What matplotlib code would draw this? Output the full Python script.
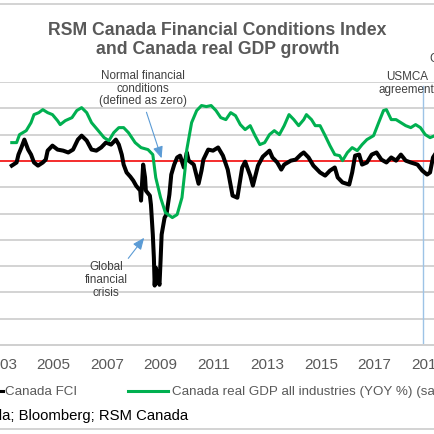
import matplotlib
matplotlib.use("Agg")
import matplotlib.pyplot as plt
from matplotlib.lines import Line2D
from matplotlib.transforms import Bbox

plt.rcParams["font.family"] = ["Liberation Sans", "DejaVu Sans"]
plt.rcParams["savefig.bbox"] = "standard"

# ── Data ───────────────────────────────────────────────────────────────────
fci_years = [
    2003.44, 2003.62, 2003.69, 2003.80, 2003.91, 2004.05, 2004.16, 2004.27, 2004.42, 2004.60,
    2004.71, 2004.78, 2004.96, 2005.15, 2005.36, 2005.55, 2005.73, 2005.91, 2006.05, 2006.24,
    2006.42, 2006.60, 2006.78, 2006.96, 2007.15, 2007.33, 2007.44, 2007.55, 2007.62, 2007.73,
    2007.87, 2007.98, 2008.09, 2008.24, 2008.27, 2008.35, 2008.42, 2008.45, 2008.60, 2008.64,
    2008.71, 2008.75, 2008.78, 2008.82, 2008.89, 2008.96, 2009.00, 2009.04, 2009.15, 2009.22,
    2009.33, 2009.40, 2009.51, 2009.62, 2009.73, 2009.87, 2009.98, 2010.05, 2010.24, 2010.42,
    2010.53, 2010.60, 2010.78, 2010.96, 2011.15, 2011.33, 2011.51, 2011.69, 2011.87, 2012.05,
    2012.16, 2012.35, 2012.45, 2012.64, 2012.82, 2013.07, 2013.18, 2013.36, 2013.51, 2013.62,
    2013.87, 2014.05, 2014.24, 2014.35, 2014.53, 2014.71, 2014.96, 2015.15, 2015.33, 2015.51,
    2015.62, 2015.80, 2016.05, 2016.16, 2016.27, 2016.42, 2016.53, 2016.71, 2016.89, 2017.07,
    2017.25, 2017.44, 2017.62, 2017.80, 2017.98, 2018.16, 2018.35, 2018.60, 2018.78, 2018.96,
    2019.07, 2019.18, 2019.25,
]
fci_values = [
    -0.18, -0.06, 0.24, 0.51, 0.81, 0.43, 0.24, -0.06, -0.18, -0.06,
    0.05, 0.39, 0.58, 0.43, 0.39, 0.32, 0.43, 0.81, 0.96, 0.77,
    0.43, 0.39, 0.51, 0.70, 0.62, 0.81, 0.62, 0.24, -0.14, -0.44,
    -0.60, -0.75, -0.95, -1.13, -1.51, -0.14, -0.63, -1.13, -1.32, -1.66,
    -2.80, -3.68, -4.74, -4.06, -4.44, -4.71, -3.79, -2.80, -2.16, -2.04,
    -1.28, -0.52, -0.14, 0.13, 0.20, -0.25, 0.32, 0.01, -0.14, -0.87,
    -0.37, 0.05, 0.43, 0.39, 0.51, 0.20, -0.33, -1.32, -1.40, -0.25,
    -0.03, -0.56, -0.94, -0.18, 0.16, 0.39, 0.13, -0.06, -0.33, -0.14,
    0.01, 0.05, 0.24, 0.32, 0.13, -0.18, -0.44, -0.56, -0.37, -0.25,
    -0.63, -0.82, -0.90, -0.44, 0.20, 0.24, -0.14, -0.06, 0.24, 0.32,
    0.05, -0.06, 0.13, 0.01, 0.24, 0.01, -0.06, -0.14, -0.37, -0.52,
    -0.44, 0.13, 0.24,
]

gdp_years = [
    2003.44, 2003.62, 2003.73, 2003.98, 2004.16, 2004.27, 2004.45, 2004.60, 2004.78, 2004.96,
    2005.15, 2005.25, 2005.44, 2005.69, 2005.87, 2006.05, 2006.24, 2006.42, 2006.64, 2006.89,
    2007.07, 2007.25, 2007.44, 2007.62, 2007.80, 2008.05, 2008.27, 2008.53, 2008.71, 2008.82,
    2009.00, 2009.18, 2009.44, 2009.62, 2009.80, 2009.91, 2009.98, 2010.16, 2010.35, 2010.53,
    2010.71, 2010.89, 2011.07, 2011.25, 2011.44, 2011.62, 2011.80, 2011.98, 2012.16, 2012.35,
    2012.53, 2012.71, 2012.89, 2013.07, 2013.25, 2013.44, 2013.62, 2013.80, 2013.98, 2014.16,
    2014.35, 2014.45, 2014.64, 2014.78, 2014.96, 2015.15, 2015.33, 2015.51, 2015.69, 2015.80,
    2015.98, 2016.16, 2016.35, 2016.53, 2016.71, 2016.96, 2017.15, 2017.33, 2017.44, 2017.62,
    2017.80, 2017.98, 2018.16, 2018.35, 2018.53, 2018.71, 2018.89, 2019.07, 2019.25,
]
gdp_values = [
    1.39, 1.39, 2.00, 2.30, 2.91, 3.52, 3.67, 3.90, 3.67, 3.52,
    3.06, 2.76, 3.06, 3.29, 3.83, 4.05, 3.67, 2.91, 2.38, 1.77,
    1.54, 2.15, 2.53, 2.53, 2.15, 1.39, 1.01, 0.86, 0.48, -1.27,
    -2.79, -3.93, -4.31, -4.08, -2.79, -0.74, 0.86, 2.91, 3.83, 4.21,
    4.13, 4.21, 3.83, 3.29, 3.14, 3.67, 3.44, 2.76, 2.38, 2.68,
    1.92, 1.24, 1.39, 2.00, 2.30, 2.00, 2.68, 3.52, 3.14, 2.68,
    3.14, 3.52, 3.14, 2.68, 2.68, 1.92, 1.16, 0.48, 0.40, 0.02,
    0.63, 1.01, 0.78, 1.24, 1.62, 1.92, 2.91, 3.83, 3.90, 3.14,
    3.14, 2.91, 2.68, 2.53, 2.76, 2.53, 2.00, 1.77, 1.92,
]

year_ticks = [2003, 2005, 2007, 2009, 2011, 2013, 2015, 2017, 2019]
usmca_date = 2018.8

GRAY_TEXT = "#595959"
GRID = "#D0D0D0"
ARROW = "#5B9BD5"
W = H = 435.0


def fx(px):
    return px / W


def fy(py):
    return 1 - py / H


# ── Figure ─────────────────────────────────────────────────────────────────
fig = plt.figure(figsize=(4.35, 4.35), dpi=100, facecolor="white")
ax = fig.add_axes([0.0, fy(346), 1.0, (346 - 83) / H])
ax2 = ax.twinx()

ax.set_xlim(2003.436, 2019.255)
ax.set_ylim(-7, 3)
ax2.set_ylim(-14, 6)

for v in range(-6, 4):
    ax.axhline(v, color=GRID, lw=1.3, zorder=1)
ax.set_yticks([])
ax2.set_yticks([])
ax.set_xticks(year_ticks)
ax.set_xticklabels([str(y) for y in year_ticks])
ax.tick_params(axis="x", length=0, pad=9, labelsize=11, labelcolor=GRAY_TEXT)
for a in (ax, ax2):
    for side in ("left", "right", "top"):
        a.spines[side].set_visible(False)
    a.spines["bottom"].set_color(GRID)
    a.spines["bottom"].set_linewidth(1.3)

ax.axhline(0, color="#FF0000", lw=1.1, zorder=3)
ax.plot([usmca_date, usmca_date], [-7, 2.85], color="#9DC3E6", lw=1.0, zorder=2)

ax.plot(fci_years, fci_values, color="black", lw=2.9, solid_joinstyle="round", zorder=4)
ax2.plot(gdp_years, gdp_values, color="#00B050", lw=2.2, solid_joinstyle="round", zorder=4)

# ── Annotations ────────────────────────────────────────────────────────────
ann_kw = dict(fontsize=8.4, color="#404040", ha="center", va="center", linespacing=1.1)
ax.text(2008.35, 2.79, "Normal financial\nconditions\n(defined as zero)", **ann_kw)
ax.annotate("", xy=(2009.07, 0.0), xytext=(2008.44, 1.95),
            arrowprops=dict(arrowstyle="-|>,head_length=0.7,head_width=0.3",
                            color=ARROW, lw=0.8), zorder=5)
ax.text(2006.96, -4.5, "Global\nfinancial\ncrisis", **ann_kw)
ax.annotate("", xy=(2008.45, -2.84), xytext=(2007.73, -3.79),
            arrowprops=dict(arrowstyle="-|>,head_length=0.7,head_width=0.3",
                            color=ARROW, lw=0.8), zorder=5)
ax.text(2018.2, 2.98, "USMCA\nagreement", **ann_kw)
ax.text(2019.06, 3.93, "COVID-19", fontsize=8.4, color="#404040", ha="left", va="center")

# ── Title, legend, source, border ──────────────────────────────────────────
fig.text(0.5, fy(40), "RSM Canada Financial Conditions Index\nand Canada real GDP growth",
         ha="center", va="center", fontsize=12.7, fontweight="bold", color=GRAY_TEXT,
         linespacing=1.1)

fig.add_artist(Line2D([fx(-40), fx(3)], [fy(392), fy(392)], color="black", lw=2.2,
                      transform=fig.transFigure))
fig.text(fx(5), fy(392), "Canada FCI", ha="left", va="center", fontsize=9.6, color=GRAY_TEXT)
fig.add_artist(Line2D([fx(128), fx(168)], [fy(392), fy(392)], color="#00B050", lw=2.2,
                      transform=fig.transFigure))
fig.text(fx(172), fy(392), "Canada real GDP all industries (YOY %) (sa, rhs)",
         ha="left", va="center", fontsize=9.6, color=GRAY_TEXT)

fig.text(fx(188), fy(416), "Source: Statistics Canada; Bloomberg; RSM Canada",
         ha="right", va="center", fontsize=10.7, color="black")

for yb in (5, 430):
    fig.add_artist(Line2D([0, 1], [fy(yb), fy(yb)], color=GRID, lw=1.3,
                          transform=fig.transFigure))

fig.savefig("out.png", dpi=100, facecolor="white",
            bbox_inches=Bbox([[0, 0], [4.35, 4.35]]), pad_inches=0)
